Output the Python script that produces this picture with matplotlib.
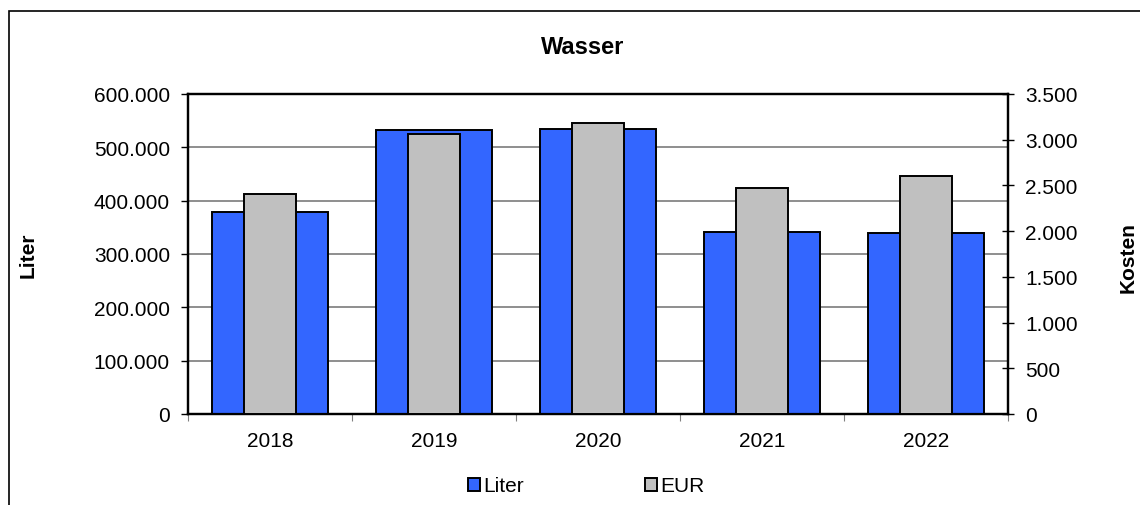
import matplotlib.pyplot as plt
import numpy as np
from matplotlib.patches import Patch, Rectangle
from matplotlib.ticker import FuncFormatter

years = ['2018', '2019', '2020', '2021', '2022']
liter = [379000, 532500, 534000, 342000, 339000]
eur = [2403, 3062, 3180, 2475, 2600]

plt.rcParams['font.family'] = ['Liberation Sans', 'DejaVu Sans']
plt.rcParams['font.size'] = 15

blue = '#3366FF'
grey = '#C0C0C0'


def de_fmt(v, pos):
    return f'{int(round(v)):,}'.replace(',', '.')


fig = plt.figure(figsize=(11.4, 5.06), dpi=100)
ax = fig.add_axes([188 / 1140, 91 / 506, 820 / 1140, 320 / 506])
ax2 = ax.twinx()

x = np.arange(len(years))
ax.bar(x, liter, width=0.713, color=blue, edgecolor='black', linewidth=1.4, zorder=3)
ax2.bar(x, eur, width=0.317, color=grey, edgecolor='black', linewidth=1.4, zorder=3)

ax.set_xlim(-0.5, len(years) - 0.5)
ax.set_ylim(0, 600000)
ax2.set_ylim(0, 3500)
ax.set_yticks(np.arange(0, 600001, 100000))
ax2.set_yticks(np.arange(0, 3501, 500))
ax.yaxis.set_major_formatter(FuncFormatter(de_fmt))
ax2.yaxis.set_major_formatter(FuncFormatter(de_fmt))

ax.yaxis.grid(True, color='#707070', linewidth=1.1, zorder=0)
ax.set_axisbelow(True)

# ticks between categories, labels at centres
ax.set_xticks(np.arange(-0.5, len(years), 1.0))
ax.set_xticklabels([])
ax.set_xticks(x, minor=True)
ax.set_xticklabels(years, minor=True)
ax.tick_params(axis='x', which='major', direction='out', length=5, color='#808080')
ax.tick_params(axis='x', which='minor', length=0, pad=12)
ax.tick_params(axis='y', direction='out', length=5, width=1, pad=8)
ax2.tick_params(axis='y', direction='inout', length=9, width=1, pad=8)

for a in (ax, ax2):
    for s in a.spines.values():
        s.set_linewidth(1.6)
        s.set_color('black')

fig.text(28 / 1140, 1 - 255 / 506, 'Liter', rotation=90, ha='center', va='center',
         fontsize=15, fontweight='bold')
fig.text(1128 / 1140, 1 - 258 / 506, 'Kosten', rotation=90, ha='center', va='center',
         fontsize=15, fontweight='bold')

fig.text(583 / 1140, 1 - 48 / 506, 'Wasser', ha='center', va='center',
         fontsize=17, fontweight='bold')

handles = [Patch(facecolor=blue, edgecolor='black', linewidth=1.4, label='Liter'),
           Patch(facecolor=grey, edgecolor='black', linewidth=1.4, label='EUR')]
fig.legend(handles=handles, loc='center left', bbox_to_anchor=(468 / 1140, 1 - 487 / 506),
           ncol=2, frameon=False, borderpad=0, borderaxespad=0,
           handlelength=0.58, handleheight=0.58, handletextpad=0.15,
           columnspacing=5.8, fontsize=15)

fig.patches.append(Rectangle((9 / 1140, -0.1), 1.2, 1.1 - 12 / 506,
                             transform=fig.transFigure, fill=False,
                             edgecolor='black', linewidth=1.2))

fig.savefig('out.png', dpi=100)
